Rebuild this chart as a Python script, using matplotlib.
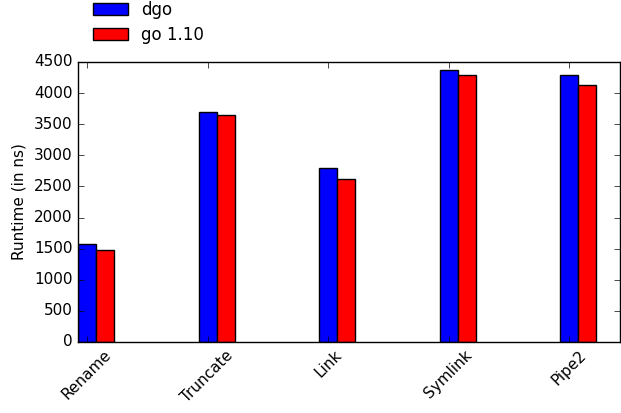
import numpy as np
import matplotlib
matplotlib.use("Agg")
import matplotlib.pyplot as plt

plt.style.use("classic")

categories = ["Rename", "Truncate", "Link", "Symlink", "Pipe2"]
dgo = [1570, 3690, 2790, 4365, 4285]
go110 = [1470, 3645, 2625, 4285, 4135]

width = 0.15
x = np.arange(len(categories))

fig = plt.figure(figsize=(6.21, 4.13), dpi=100, facecolor="white")
ax = fig.add_axes([0.1256, 0.172, 0.8724, 0.678])

ax.bar(x, dgo, width, align="center", color="blue", edgecolor="black", linewidth=1, label="dgo")
ax.bar(x + width, go110, width, align="center", color="red", edgecolor="black", linewidth=1, label="go 1.10")

ax.set_xticks(x)
ax.set_xticklabels(categories, rotation=45, ha="center", fontsize=11)
ax.set_xlim(-0.075, 4.42)
ax.set_ylim(0, 4500)
ax.set_yticks(np.arange(0, 4501, 500))
ax.tick_params(axis="y", labelsize=11)
ax.set_ylabel("Runtime (in ns)", fontsize=11)

fig.legend(loc="upper left", bbox_to_anchor=(0.125, 1.035), frameon=False,
           fontsize=12, handlelength=2.1, labelspacing=0.45)

fig.savefig("out.png", dpi=100, facecolor="white")
